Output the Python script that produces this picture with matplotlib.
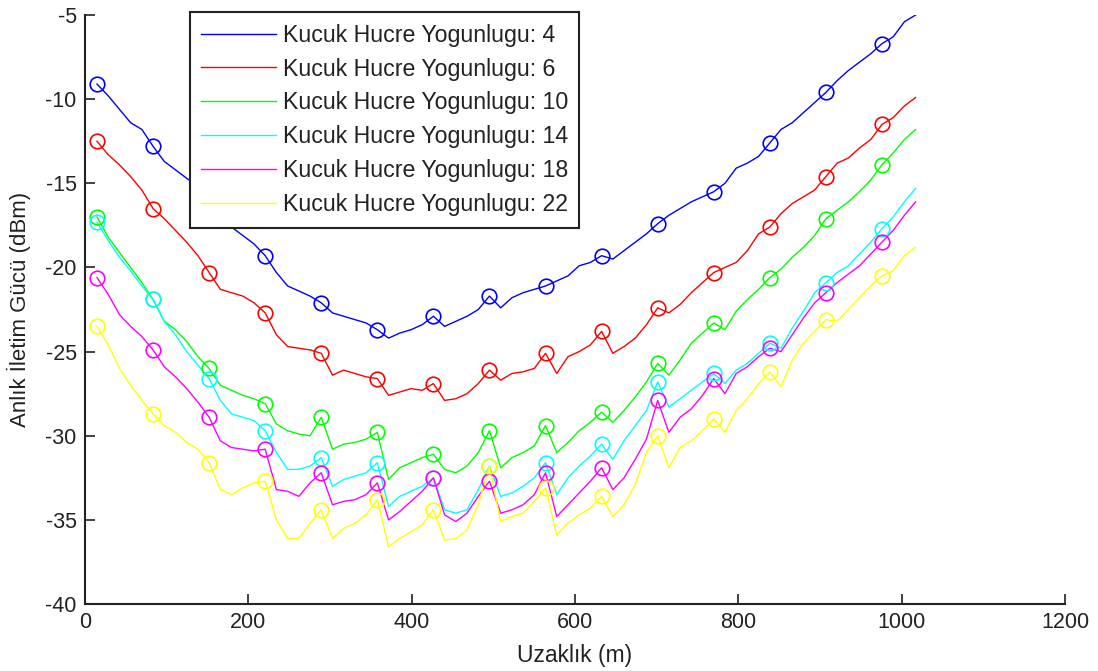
import numpy as np
import matplotlib
matplotlib.use("Agg")
import matplotlib.pyplot as plt

plt.rcParams['font.family'] = ['Liberation Sans', 'DejaVu Sans']

# sampling of distance (m): 74 samples, markers on every 5th sample
distance = 14.7 + 13.73 * np.arange(74)

densities = [4, 6, 10, 14, 18, 22]

p4 = [-9.1, -9.8, -10.6, -11.4, -11.8, -12.8, -13.7, -14.2, -14.7, -15.2,
      -15.9, -16.7, -17.6, -18.1, -18.6, -19.3, -20.3, -21.1, -21.4, -21.7,
      -22.1, -22.7, -22.9, -23.1, -23.3, -23.7, -24.2, -23.9, -23.7, -23.4,
      -22.9, -23.5, -23.2, -22.9, -22.5, -21.7, -22.4, -21.8, -21.5, -21.3,
      -21.1, -20.8, -20.5, -19.9, -19.7, -19.3, -19.5, -19.0, -18.5, -18.0,
      -17.4, -16.9, -16.5, -16.1, -15.8, -15.5, -15.0, -14.1, -13.8, -13.4,
      -12.6, -11.8, -11.4, -10.8, -10.2, -9.6, -8.9, -8.3, -7.8, -7.3,
      -6.7, -6.3, -5.4, -5.0]

p6 = [-12.5, -13.3, -13.9, -14.6, -15.4, -16.5, -17.1, -17.8, -18.5, -19.3,
      -20.3, -21.3, -21.5, -21.7, -22.1, -22.7, -24.0, -24.7, -24.8, -24.9,
      -25.1, -26.4, -26.1, -26.3, -26.5, -26.6, -27.6, -27.4, -27.2, -27.3,
      -26.9, -27.9, -27.8, -27.5, -26.9, -26.1, -26.7, -26.3, -26.2, -26.0,
      -25.1, -26.3, -25.3, -25.0, -24.6, -23.8, -25.1, -24.7, -24.2, -23.4,
      -22.4, -22.7, -22.2, -21.5, -20.9, -20.3, -20.0, -19.7, -19.0, -18.0,
      -17.6, -16.8, -16.2, -15.8, -15.4, -14.6, -13.8, -13.5, -12.9, -12.4,
      -11.5, -11.1, -10.4, -9.9]

p10 = [-17.0, -18.2, -19.1, -20.0, -20.9, -21.9, -23.2, -23.7, -24.4, -25.3,
       -26.0, -27.0, -27.3, -27.6, -27.8, -28.1, -29.3, -29.7, -29.9, -30.0,
       -28.9, -30.8, -30.5, -30.4, -30.2, -29.8, -32.6, -31.9, -31.6, -31.3,
       -31.1, -32.0, -32.2, -31.8, -31.0, -29.7, -31.9, -31.3, -31.0, -30.6,
       -29.4, -31.0, -30.4, -29.7, -29.2, -28.6, -29.2, -28.5, -27.7, -26.8,
       -25.7, -26.4, -25.5, -24.5, -23.9, -23.3, -23.7, -22.6, -21.9, -21.3,
       -20.6, -20.1, -19.4, -18.8, -18.1, -17.1, -16.6, -16.1, -15.5, -14.8,
       -13.9, -13.2, -12.4, -11.8]

p14 = [-17.3, -18.4, -19.4, -20.2, -21.1, -21.9, -23.2, -24.0, -25.0, -25.8,
       -26.6, -27.9, -28.7, -28.9, -29.1, -29.7, -31.0, -32.0, -32.0, -31.8,
       -31.3, -33.0, -32.6, -32.4, -32.2, -31.6, -34.2, -33.6, -33.3, -33.0,
       -32.5, -34.4, -34.6, -34.4, -33.2, -31.8, -33.6, -33.4, -33.0, -32.5,
       -31.6, -33.5, -32.5, -31.8, -31.2, -30.5, -31.4, -30.3, -29.4, -28.5,
       -26.8, -28.3, -27.8, -27.3, -26.8, -26.3, -26.9, -26.1, -25.7, -25.1,
       -24.5, -24.8, -23.6, -22.6, -21.5, -20.9, -20.3, -19.9, -19.2, -18.5,
       -17.7, -17.0, -16.1, -15.3]

p18 = [-20.6, -21.6, -22.8, -23.5, -24.1, -24.9, -25.9, -26.5, -27.2, -28.0,
       -28.9, -30.3, -30.7, -30.8, -30.9, -30.8, -33.2, -33.3, -33.6, -32.8,
       -32.2, -34.1, -33.9, -33.8, -33.5, -32.8, -35.0, -34.5, -33.9, -33.3,
       -32.5, -34.7, -35.1, -34.6, -33.6, -32.7, -34.6, -34.4, -34.1, -33.5,
       -32.2, -34.8, -34.1, -33.4, -32.7, -31.9, -33.2, -32.5, -31.4, -30.2,
       -27.9, -29.8, -28.9, -28.4, -27.6, -26.6, -27.5, -26.3, -25.9, -25.3,
       -24.8, -25.0, -24.0, -23.0, -22.1, -21.5, -20.9, -20.4, -19.9, -19.2,
       -18.5, -17.8, -16.9, -16.1]

p22 = [-23.5, -24.6, -26.0, -27.0, -27.9, -28.7, -29.4, -29.8, -30.4, -30.8,
       -31.6, -33.2, -33.5, -33.1, -32.8, -32.7, -35.0, -36.1, -36.1, -35.2,
       -34.4, -36.1, -35.5, -35.2, -34.7, -33.8, -36.6, -36.1, -35.7, -35.3,
       -34.4, -36.2, -36.1, -35.6, -34.1, -31.8, -35.1, -34.8, -34.6, -33.9,
       -33.1, -35.9, -35.2, -34.7, -34.3, -33.6, -34.8, -34.1, -32.9, -31.0,
       -30.0, -31.9, -30.7, -30.3, -29.7, -29.0, -29.8, -28.5, -27.8, -26.9,
       -26.2, -27.1, -25.5, -24.5, -23.8, -23.1, -23.2, -22.5, -21.8, -21.1,
       -20.5, -20.2, -19.3, -18.8]

series = [p4, p6, p10, p14, p18, p22]
colors = ['#0000FF', '#FF0000', '#00FF00', '#00FFFF', '#FF00FF', '#FFFF00']

xticks = [0, 200, 400, 600, 800, 1000, 1200]
yticks = [-40, -35, -30, -25, -20, -15, -10, -5]

fig = plt.figure(figsize=(10.98, 6.71), dpi=100)
ax = fig.add_axes([0.0774, 0.0998, 0.8926, 0.8778])

x = np.asarray(distance)
for d, vals, c in zip(densities, series, colors):
    y = np.asarray(vals)
    ax.plot(x, y, color=c, lw=1.0, label=f'Kucuk Hucre Yogunlugu: {d}')
for vals, c in zip(series, colors):
    y = np.asarray(vals)
    ax.plot(x[::5], y[::5], 'o', mfc='none', mec=c, ms=10.5, mew=1.2)

ax.set_xlim(0, 1200)
ax.set_ylim(-40, -5)
ax.set_xticks(xticks)
ax.set_yticks(yticks)
ax.set_xticklabels([str(t) for t in xticks])
ax.set_yticklabels([str(t) for t in yticks])
ax.tick_params(direction='in', length=7, width=1.2, labelsize=15.5, pad=6,
               colors='#222222')
for s in ['top', 'right']:
    ax.spines[s].set_visible(False)
for s in ['left', 'bottom']:
    ax.spines[s].set_linewidth(1.5)
    ax.spines[s].set_color('#222222')

ax.set_xlabel('Uzaklık (m)', fontsize=16.5, color='#222222', labelpad=8)
ax.set_ylabel('Anlık İletim Gücü (dBm)', fontsize=16, color='#222222', labelpad=10)

leg = ax.legend(loc='upper left', bbox_to_anchor=(0.107, 1.005),
                borderaxespad=0, fontsize=16.7, handlelength=3.2,
                handletextpad=0.3, labelspacing=0.47, fancybox=False,
                framealpha=1, edgecolor='#222222', borderpad=0.5)
leg.get_frame().set_linewidth(1.5)
for t in leg.get_texts():
    t.set_color('#222222')

fig.savefig('out.png', dpi=100)
